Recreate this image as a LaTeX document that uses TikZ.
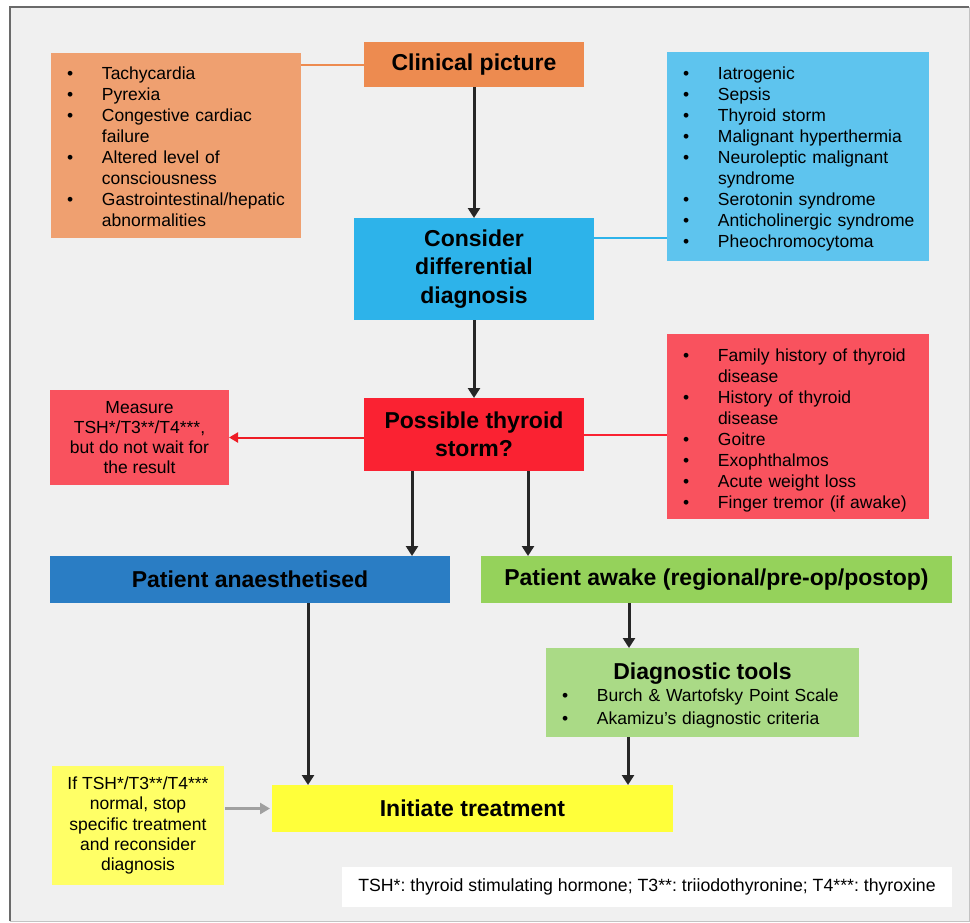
\documentclass[tikz,border=0pt]{standalone}
\usepackage{fontspec}
\setmainfont{Liberation Sans}
\usetikzlibrary{arrows.meta,calc}
\frenchspacing
\definecolor{bgc}{HTML}{F0F0F0}
\definecolor{framec}{HTML}{6A6A6A}
\definecolor{orangeL}{HTML}{EFA070}
\definecolor{orangeD}{HTML}{ED8B50}
\definecolor{blueL}{HTML}{5EC4EE}
\definecolor{blueD}{HTML}{2DB3EA}
\definecolor{redD}{HTML}{FA2232}
\definecolor{redL}{HTML}{F9525E}
\definecolor{blueA}{HTML}{2A7DC4}
\definecolor{greenD}{HTML}{95D25B}
\definecolor{greenL}{HTML}{AADA86}
\definecolor{yellowD}{HTML}{FFFF3A}
\definecolor{yellowL}{HTML}{FFFF66}
\definecolor{arrowc}{HTML}{262626}
\definecolor{grayarrow}{HTML}{A0A0A0}
\definecolor{redarrow}{HTML}{EE1C25}
\newcommand\bi[1]{\par\noindent\makebox[51pt][l]{\hspace{16pt}\textbullet}#1}
\newcommand\bc[1]{\par\noindent\hspace*{51pt}#1}
\tikzset{
  box/.style={inner sep=0pt, outer sep=0pt, text=black},
  listbox/.style={box, align=left, font=\frenchspacing\fontsize{17.5}{21}\selectfont},
  titlebox/.style={box, align=center, font=\fontsize{23}{28.5}\selectfont\bfseries},
  plainbox/.style={box, align=center, font=\frenchspacing\fontsize{17.5}{20.2}\selectfont},
  arr/.style={draw=arrowc, line width=3pt, -{Triangle[width=12pt,length=10pt]}},
  redarr/.style={draw=redarrow, line width=2pt, -{Triangle[width=10pt,length=9pt]}},
  grayarr/.style={draw=grayarrow, line width=2.5pt, -{Triangle[width=11pt,length=10pt]}},
  link/.style={line width=2pt}
}
\begin{document}
\begin{tikzpicture}[x=1pt,y=-1pt]
\useasboundingbox (0,0) rectangle (970,922);
\fill[white] (0,0) rectangle (970,922);
\fill[bgc] (10,7) rectangle (969,921);
\draw[framec, line width=2pt] (10,921) -- (10,7) -- (969,7);
\draw[framec!40, line width=1pt] (969,7) -- (969,921) -- (10,921);

% lists
\node[listbox, fill=orangeL, text width=250pt, minimum height=185pt] (olist) at (176,145.5) {%
\vspace*{-3pt}\bi{Tachycardia}\bi{Pyrexia}\bi{Congestive cardiac}\bc{failure}\bi{Altered level of}\bc{consciousness}\bi{Gastrointestinal/hepatic}\bc{abnormalities}\par\vspace*{3pt}};
\node[listbox, fill=blueL, text width=262pt, minimum height=209pt] (blist) at (798,156.5) {%
\vspace*{-2pt}\bi{Iatrogenic}\bi{Sepsis}\bi{Thyroid storm}\bi{Malignant hyperthermia}\bi{Neuroleptic malignant}\bc{syndrome}\bi{Serotonin syndrome}\bi{Anticholinergic syndrome}\bi{Pheochromocytoma}\par\vspace*{2pt}};
\node[listbox, fill=redL, text width=262pt, minimum height=185pt] (rlist) at (798,426.5) {%
\bi{Family history of thyroid}\bc{disease}\bi{History of thyroid}\bc{disease}\bi{Goitre}\bi{Exophthalmos}\bi{Acute weight loss}\bi{Finger tremor (if awake)}};

% main boxes
\node[titlebox, fill=orangeD, minimum width=220pt, minimum height=45pt] (clin) at (474,64.5) {Clinical picture};
\node[titlebox, fill=blueD, minimum width=240pt, minimum height=102pt] (cons) at (474,269) {Consider\\differential\\diagnosis};
\node[titlebox, fill=redD, minimum width=220pt, minimum height=73pt] (poss) at (474,434.5) {Possible thyroid\\storm?};
\node[plainbox, fill=redL, minimum width=179pt, minimum height=95pt] (meas) at (139.5,437.5) {Measure\\TSH*/T3**/T4***,\\but do not wait for\\the result};
\node[titlebox, fill=blueA, minimum width=400pt, minimum height=47pt] (anaes) at (250,579.5) {Patient anaesthetised};
\node[titlebox, fill=greenD, minimum width=471pt, minimum height=47pt] (awake) at (716.5,579.5) {Patient awake (regional/pre-op/postop)};
\node[box, fill=greenL, text width=313pt, minimum height=89pt, align=left, font=\fontsize{17.5}{22.5}\selectfont] (diag) at (702.5,692.5) {%
\par\noindent\hfill{\fontsize{23}{25}\selectfont\bfseries Diagnostic tools}\hfill\null
\bi{Burch \& Wartofsky Point Scale}\bi{Akamizu's diagnostic criteria}};
\node[titlebox, fill=yellowD, minimum width=401pt, minimum height=47pt] (init) at (472.5,808.5) {Initiate treatment};
\node[plainbox, fill=yellowL, minimum width=172pt, minimum height=119pt] (note) at (138,825.5) {If TSH*/T3**/T4***\\normal, stop\\specific treatment\\and reconsider\\diagnosis};
\node[plainbox, fill=white, minimum width=610pt, minimum height=40pt, font=\frenchspacing\fontsize{17.7}{20}\selectfont] (foot) at (647,887) {TSH*: thyroid stimulating hormone; T3**: triiodothyronine; T4***: thyroxine};

% links
\draw[link, orangeD] (clin.west -| olist.east) -- (clin.west);
\draw[link, blueD] ([yshift=31pt]cons.east) -- ([yshift=31pt]cons.east -| blist.west);
\draw[link, redD] (poss.east) -- (poss.east -| rlist.west);

% arrows
\draw[arr] (clin.south) -- (cons.north);
\draw[arr] (cons.south) -- (poss.north);
\draw[arr] ([xshift=-62pt]poss.south) -- ([xshift=-62pt]poss.south |- anaes.north);
\draw[arr] ([xshift=54pt]poss.south) -- ([xshift=54pt]poss.south |- awake.north);
\draw[arr] ([xshift=58pt]anaes.south) -- ([xshift=58pt]anaes.south |- init.north);
\draw[arr] ([xshift=-87.5pt]awake.south) -- ([xshift=-87.5pt]awake.south |- diag.north);
\draw[arr] ([xshift=-74.5pt]diag.south) -- ([xshift=-74.5pt]diag.south |- init.north);
\draw[redarr] ([yshift=-3pt]poss.west) -- ([yshift=-3pt]poss.west -| meas.east);
\draw[grayarr] ([xshift=1pt]note.east |- init.west) -- ([xshift=-2pt]init.west);
\end{tikzpicture}
\end{document}
